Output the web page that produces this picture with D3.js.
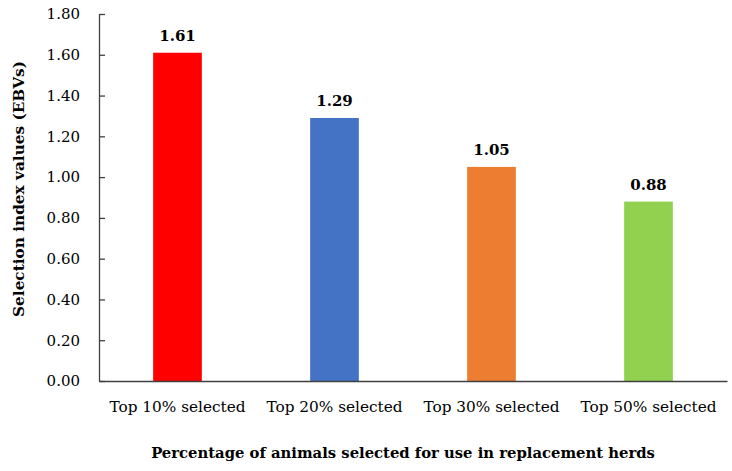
<!DOCTYPE html>
<html><head><meta charset="utf-8">
<script src="https://cdn.jsdelivr.net/npm/d3@7"></script>
<style>body{margin:0;background:#fff}</style>
</head><body>
<svg id="chart" width="732" height="471"></svg>
<script>
const categories = ["Top 10% selected","Top 20% selected","Top 30% selected","Top 50% selected"];
const values = [1.61, 1.29, 1.05, 0.88];
const valueLabels = ["1.61","1.29","1.05","0.88"];
const colors = ["#FF0000","#4472C4","#ED7D31","#92D050"];
const yTicks = [0,0.2,0.4,0.6,0.8,1.0,1.2,1.4,1.6,1.8];
const xTitle = "Percentage of animals selected for use in replacement herds";
const yTitle = "Selection index values (EBVs)";

(function(){
const font = "'DejaVu Serif', serif";
const svg = d3.select("#chart");
const mLeft = 99, mRight = 727, mTop = 14, mBottom = 381;
const x = d3.scaleBand().domain(categories).range([mLeft, mRight]).paddingInner(0.69).paddingOuter(0.345);
const y = d3.scaleLinear().domain([0, 1.8]).range([mBottom, mTop]);

// y axis
const ya = svg.append("g").attr("transform", `translate(${mLeft},0)`)
  .call(d3.axisLeft(y).tickValues(yTicks).tickFormat(d3.format(".2f")).tickSizeInner(-6).tickSizeOuter(0).tickPadding(19));
ya.select(".domain").attr("stroke","#404040").attr("stroke-width",1.3);
ya.selectAll(".tick line").attr("stroke","#404040").attr("stroke-width",1.3);
ya.selectAll(".tick text").attr("font-family",font).attr("font-size","15px").attr("fill","#000");

// bars
svg.append("g").selectAll("rect").data(categories).join("rect")
  .attr("x", d => x(d)).attr("width", x.bandwidth())
  .attr("y", (d,i) => y(values[i])).attr("height", (d,i) => y(0) - y(values[i]))
  .attr("fill", (d,i) => colors[i]);

// x axis
const xa = svg.append("g").attr("transform", `translate(0,${mBottom})`)
  .call(d3.axisBottom(x).tickSize(0).tickPadding(20));
xa.select(".domain").attr("stroke","#404040").attr("stroke-width",1.3);
xa.selectAll(".tick text").attr("font-family",font).attr("font-size","15.3px").attr("fill","#000");

// value labels
svg.append("g").selectAll("text").data(categories).join("text")
  .attr("x", d => x(d) + x.bandwidth()/2)
  .attr("y", (d,i) => y(values[i]) - 12)
  .attr("text-anchor","middle")
  .attr("font-family",font).attr("font-weight","bold").attr("font-size","15px")
  .text((d,i) => valueLabels[i]);

// titles
svg.append("text").attr("x", 403).attr("y", 458).attr("text-anchor","middle")
  .attr("font-family",font).attr("font-weight","bold").attr("font-size","14.8px").text(xTitle);
svg.append("text").attr("transform","translate(24,189) rotate(-90)").attr("text-anchor","middle")
  .attr("font-family",font).attr("font-weight","bold").attr("font-size","15.3px").text(yTitle);
})();
</script>
</body></html>
